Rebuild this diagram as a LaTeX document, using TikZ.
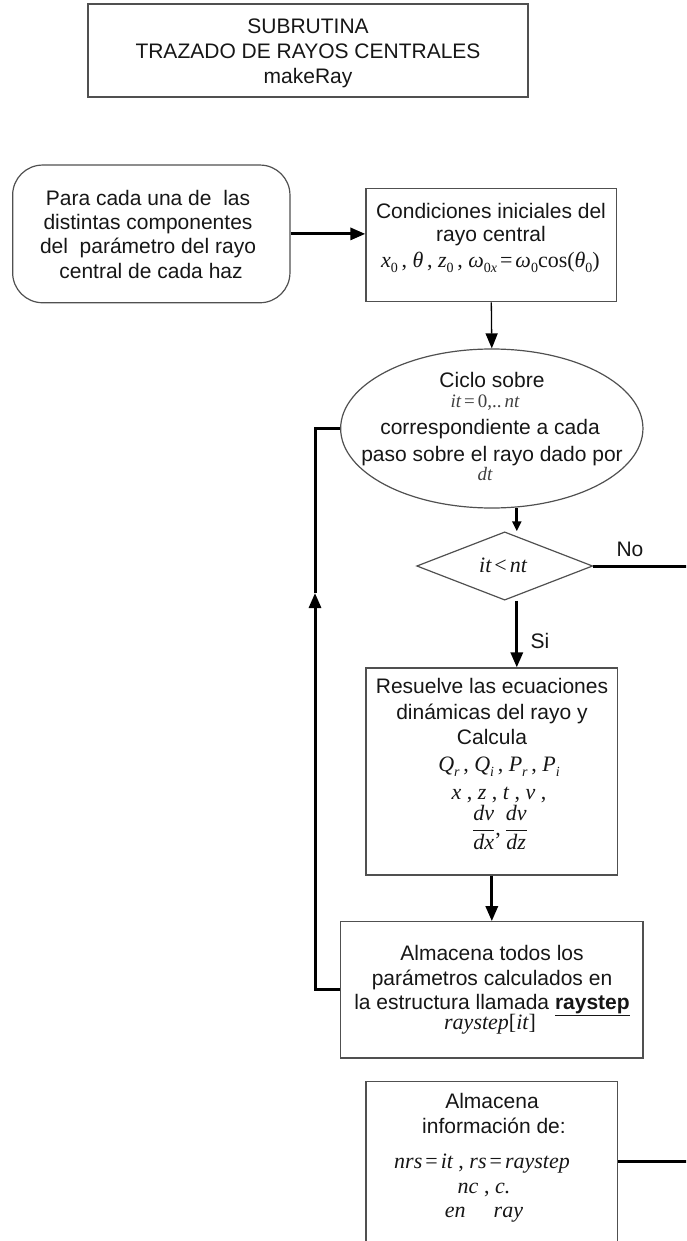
\documentclass[tikz,border=0pt]{standalone}
\usepackage{fontspec}
\setmainfont{Liberation Sans}
\newfontfamily\mathserif{Liberation Serif}
\usetikzlibrary{arrows.meta,shapes.geometric,calc}

% italic / upright serif pieces for the formulas
\newcommand\vi[1]{{\mathserif\itshape #1}}
\newcommand\vu[1]{{\mathserif #1}}
\newcommand\lo[1]{\raisebox{-0.25em}{\fontsize{14}{14}\selectfont #1}}
\newcommand\rel[1]{\hspace{3pt}#1\hspace{3pt}}

\definecolor{frame}{HTML}{505050}
\definecolor{ink}{HTML}{161616}

\begin{document}
\begin{tikzpicture}[x=1pt,y=-1pt,
  box/.style={draw=frame, line width=1.2pt, inner sep=0pt},
  txt/.style={anchor=base, inner sep=0pt, text=ink, font=\fontsize{21}{25}\selectfont},
  mth/.style={anchor=base, inner sep=0pt, text=ink, font=\mathserif\fontsize{22}{26}\selectfont},
  smallmth/.style={mth, font=\mathserif\fontsize{19}{22}\selectfont, text=black!75},
  conn/.style={draw=black, line width=3pt},
  thinconn/.style={draw=black, line width=1.3pt},
  tip/.style={-{Triangle[length=15pt,width=12pt]}},
  smalltip/.style={-{Triangle[length=10pt,width=9pt]}}
]
\useasboundingbox (0,0) rectangle (686,1241);
\begin{scope}
\clip (0,0) rectangle (686,1241);

% ---------- shapes ----------
\node[box, minimum width=440pt, minimum height=93pt] (title) at (308,50.5) {};
\node[box, rounded corners=30pt, minimum width=277.3pt, minimum height=137.7pt] (start) at (151.3,233.9) {};
\node[box, minimum width=250.7pt, minimum height=113.4pt] (cond) at (491.3,245) {};
\node[box, ellipse, minimum width=302.3pt, minimum height=159pt] (ell) at (491.8,428.5) {};
\node[box, diamond, minimum width=176pt, minimum height=68.3pt] (dia) at (504.7,566) {};
\node[box, minimum width=251.7pt, minimum height=207pt] (res) at (491.8,771.5) {};
\node[box, minimum width=302.3pt, minimum height=136.3pt] (rs) at (491.8,989.9) {};
\node[box, minimum width=251.7pt, minimum height=188.3pt] (last) at (491.8,1175.9) {};

% ---------- texts ----------
\node[txt] (t1) at (308,34) {SUBRUTINA};
\node[txt] (t2) at (308,59) {TRAZADO DE RAYOS CENTRALES};
\node[txt] (t3) at (308,84) {makeRay};

\node[txt] (s1) at (148,206) {Para cada una de\ \ las};
\node[txt] (s2) at (148,230) {distintas componentes};
\node[txt] (s3) at (148,254) {del\ \ parámetro del rayo};
\node[txt] (s4) at (151,278) {central de cada haz};

\node[txt] (c1) at (491,219) {Condiciones iniciales del};
\node[txt] (c2) at (491,242) {rayo central};
\node[mth] (c3) at (490.5,267) {\vi{x}\lo{0}\,, \vi{θ}\,, \vi{z}\lo{0}\,, \vi{ω}\lo{0\vi{x}}\rel{=}\vi{ω}\lo{0}cos(\vi{θ}\lo{0})};

\node[txt] (e1) at (492,387) {Ciclo sobre};
\node[smallmth] (e2) at (485,407) {\vi{it}\rel{=}0,..\,\vi{nt}};
\node[txt] (e3) at (490,434) {correspondiente a cada};
\node[txt] (e4) at (492,461.7) {paso sobre el rayo dado por};
\node[smallmth] (e5) at (485,480) {\vi{dt}};

\node[mth] (d1) at (503,572) {\vi{it}\rel{<}\vi{nt}};

\node[txt] (r1) at (492,693) {Resuelve las ecuaciones};
\node[txt] (r2) at (492,719) {dinámicas del rayo y};
\node[txt] (r3) at (492,744) {Calcula};
\node[mth] (r4) at (499,771) {\vi{Q}\lo{\vi{r}}\,, \vi{Q}\lo{\vi{i}}\,, \vi{P}\lo{\vi{r}}\,, \vi{P}\lo{\vi{i}}};
\node[mth] (r5) at (499,799) {\vi{x} , \vi{z} , \vi{t} , \vi{v} ,};
\node[mth] (r6) at (500,835) {$\displaystyle\frac{\hbox{\vi{dv}}}{\hbox{\vi{dx}}}$\vu{,}\,$\displaystyle\frac{\hbox{\vi{dv}}}{\hbox{\vi{dz}}}$};

\node[txt] (a1) at (492,960) {Almacena todos los};
\node[txt] (a2) at (492,985) {parámetros calculados en};
\node[txt] (a3) at (492,1009) {la estructura llamada \textbf{\underline{raystep}}};
\node[mth] (a4) at (490,1029) {\vi{raystep}[\vi{it}]};

\node[txt] (b1) at (492,1108) {Almacena};
\node[txt] (b2) at (494,1133) {información de:};
\node[mth] (b3) at (482,1168) {\vi{nrs}\rel{=}\vi{it} , \vi{rs}\rel{=}\vi{raystep}};
\node[mth] (b4) at (484,1193) {\vi{nc} , \vi{c.}};
\node[mth] (b5) at (484,1217) {\vi{en}\hspace{28pt}\vi{ray}};

% ---------- connectors ----------
\draw[conn, tip] (start.east) -- (start.east -| cond.west);
\draw[thinconn, tip] (cond.south) -- (ell.north);

\coordinate (ed) at ($(ell.center)+(25,79)$);
\draw[conn, smalltip] (ed) -- (ed |- dia.north);
\draw[conn, tip] (ed |- dia.south) -- (ed |- res.north);
\node[txt] (si) at (540,648) {Si};

\draw[conn, tip] (res.south) -- (rs.north);

\coordinate (lp) at (315,593);
\draw[conn, tip] (rs.west) -- (rs.west -| lp) -- (lp);
\draw[conn] (lp) -- (lp |- ell.west) -- (ell.west);

\coordinate (exit1) at (690,566);
\draw[conn] (dia.east) -- (exit1);
\node[txt] (no) at (630,556) {No};

\coordinate (exit2) at (690,1161.7);
\draw[conn] (exit2 -| last.east) -- (exit2);
\end{scope}
\end{tikzpicture}
\end{document}
